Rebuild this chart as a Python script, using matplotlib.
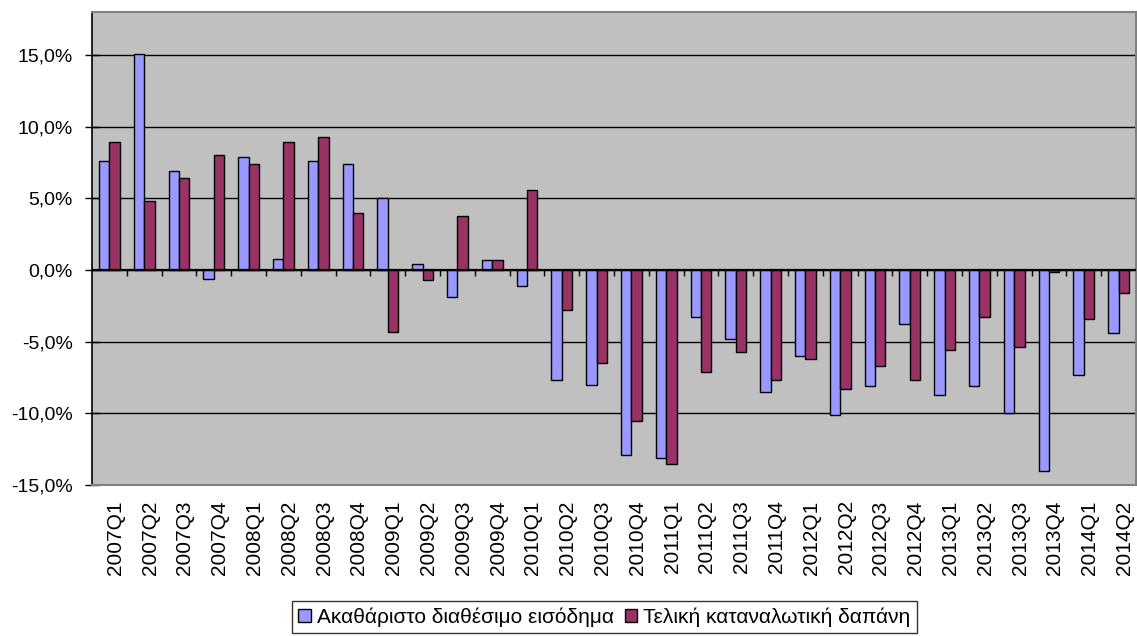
import numpy as np
import matplotlib; matplotlib.use("Agg")
import matplotlib.pyplot as plt
import matplotlib.transforms as mtransforms
from matplotlib.ticker import FuncFormatter

plt.rcParams["font.family"] = ["Liberation Sans", "DejaVu Sans"]

quarters = ["2007Q1", "2007Q2", "2007Q3", "2007Q4", "2008Q1", "2008Q2", "2008Q3", "2008Q4",
            "2009Q1", "2009Q2", "2009Q3", "2009Q4", "2010Q1", "2010Q2", "2010Q3", "2010Q4",
            "2011Q1", "2011Q2", "2011Q3", "2011Q4", "2012Q1", "2012Q2", "2012Q3", "2012Q4",
            "2013Q1", "2013Q2", "2013Q3", "2013Q4", "2014Q1", "2014Q2"]
income = [7.6, 15.1, 6.9, -0.6, 7.9, 0.8, 7.6, 7.4,
          5.0, 0.4, -1.9, 0.7, -1.1, -7.7, -8.0, -12.9,
          -13.1, -3.3, -4.8, -8.5, -6.0, -10.1, -8.1, -3.8,
          -8.7, -8.1, -10.0, -14.0, -7.3, -4.4]
consumption = [8.9, 4.8, 6.4, 8.0, 7.4, 8.9, 9.3, 4.0,
               -4.3, -0.7, 3.8, 0.7, 5.6, -2.8, -6.5, -10.5,
               -13.5, -7.1, -5.7, -7.7, -6.2, -8.3, -6.7, -7.7,
               -5.6, -3.3, -5.4, -0.15, -3.4, -1.6]
labels = ["Ακαθάριστο διαθέσιμο εισόδημα", "Τελική καταναλωτική δαπάνη"]

x = np.arange(len(quarters))
w = 0.3

fig = plt.figure(figsize=(11.37, 6.36), dpi=100)
ax = fig.add_axes([0.0809, 0.2374, 0.9182, 0.7437])
ax.set_facecolor("#c0c0c0")

ax.bar(x - w / 2, income, w, color="#9999ff", edgecolor="black", linewidth=1, label=labels[0], zorder=3)
ax.bar(x + w / 2, consumption, w, color="#993366", edgecolor="black", linewidth=1, label=labels[1], zorder=3)

ax.set_xlim(-0.5, len(quarters) - 0.5)
ax.set_ylim(-15, 18)
ax.set_yticks(np.arange(-15, 16, 5))
ax.yaxis.set_major_formatter(FuncFormatter(lambda v, p: f"{v:.1f}%".replace(".", ",")))
ax.tick_params(axis="y", direction="inout", length=10, width=1, labelsize=14, pad=9)
for v in range(-10, 16, 5):
    ax.axhline(v, color="black", linewidth=1, zorder=1)

ax.set_xticks(x)
ax.set_xticklabels(quarters, rotation=90, fontsize=15)
ax.tick_params(axis="x", length=0, pad=11)
shift = mtransforms.ScaledTranslation(6 / 100, 0, fig.dpi_scale_trans)
for t in ax.get_xticklabels():
    t.set_transform(t.get_transform() + shift)

for s in ["top", "right", "bottom"]:
    ax.spines[s].set_color("#808080")
    ax.spines[s].set_linewidth(1.5)
ax.spines["left"].set_color("black")
ax.spines["left"].set_linewidth(1.2)

# category axis crossing at zero, tick marks between categories
ax.axhline(0, color="black", linewidth=1.6, zorder=4)
ax.vlines(x[:-1] + 0.5, -0.45, 0, color="black", linewidth=1, zorder=4)

leg = fig.legend(loc="upper center", bbox_to_anchor=(0.5317, 0.055), ncol=2, fontsize=15,
                 frameon=True, fancybox=False, edgecolor="black", handlelength=0.6,
                 handleheight=0.6, handletextpad=0.3, columnspacing=0.5, borderpad=0.3,
                 borderaxespad=0)
leg.get_frame().set_linewidth(1)

fig.savefig("out.png", dpi=100, facecolor="white")
